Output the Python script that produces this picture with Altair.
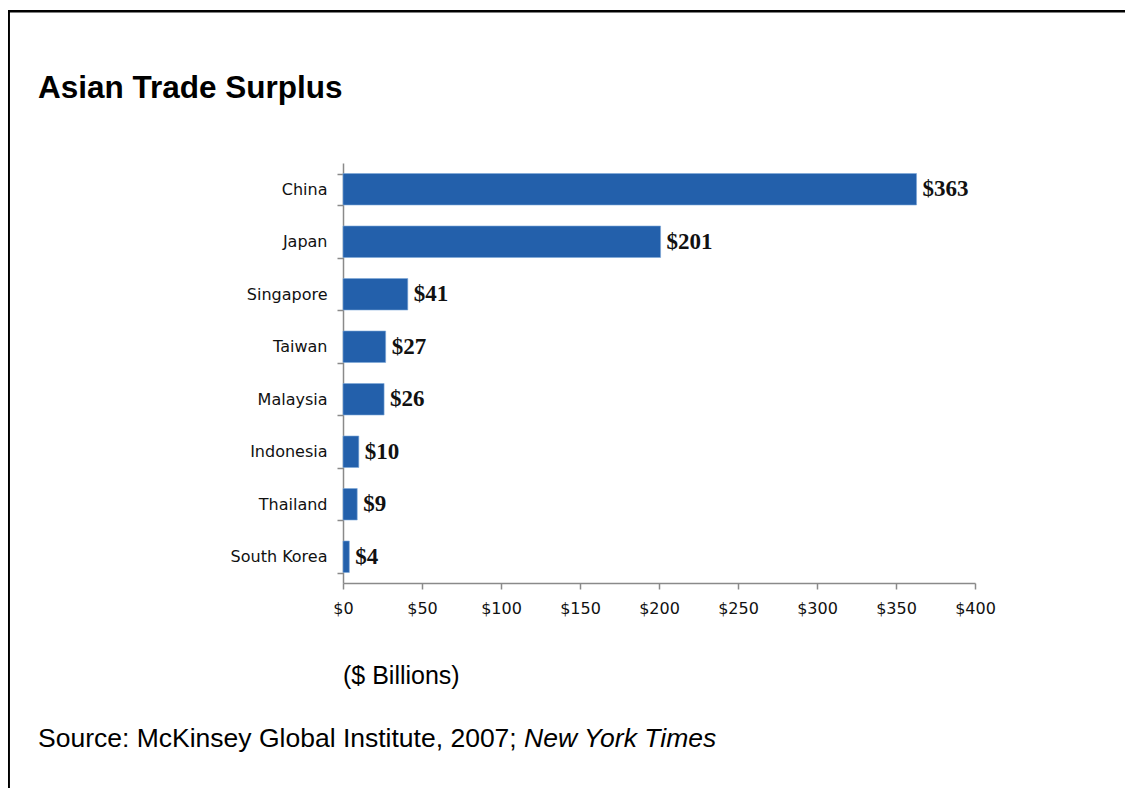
import altair as alt
import pandas as pd

title_text = "Asian Trade Surplus"
unit_text = "($ Billions)"
source_text = "Source: McKinsey Global Institute, 2007;"
source_italic = "New York Times"

countries = ["China", "Japan", "Singapore", "Taiwan", "Malaysia", "Indonesia", "Thailand", "South Korea"]
surplus = [363, 201, 41, 27, 26, 10, 9, 4]
value_labels = ["$363", "$201", "$41", "$27", "$26", "$10", "$9", "$4"]
x_ticks = [0, 50, 100, 150, 200, 250, 300, 350, 400]

df = pd.DataFrame({"country": countries, "surplus": surplus, "label": value_labels})

W, H = 632, 420
AXIS_GRAY = "#8a8a8a"

y_enc = alt.Y(
    "country:N",
    sort=countries,
    scale=alt.Scale(paddingInner=0.4, paddingOuter=0.2),
    axis=alt.Axis(
        title=None,
        tickBand="extent",
        tickSize=6,
        labelPadding=10,
        labelFont="DejaVu Sans",
        labelFontSize=16,
        labelColor="#111111",
        domainColor=AXIS_GRAY,
        tickColor=AXIS_GRAY,
        domainWidth=1.5,
        tickWidth=1.5,
    ),
)
x_enc = alt.X(
    "surplus:Q",
    scale=alt.Scale(domain=[0, 400], nice=False),
    axis=alt.Axis(
        title=None,
        values=x_ticks,
        labelExpr="'$' + format(datum.value, 'd')",
        grid=False,
        tickSize=6,
        labelPadding=11,
        labelFont="DejaVu Sans",
        labelFontSize=16,
        labelColor="#111111",
        labelFlush=False,
        domainColor=AXIS_GRAY,
        tickColor=AXIS_GRAY,
        domainWidth=1.5,
        tickWidth=1.5,
    ),
)

bars = alt.Chart(df).mark_bar(color="#2360ab", stroke="#7ea7d8", strokeWidth=0.6).encode(x=x_enc, y=y_enc)

values = alt.Chart(df).mark_text(
    align="left", baseline="middle", dx=6,
    font="Liberation Serif", fontWeight="bold", fontSize=23, color="#111111",
).encode(
    x="surplus:Q",
    y=alt.Y("country:N", sort=countries),
    text="label:N",
)

def note(text, x, y, size, weight="normal", style="normal"):
    return alt.Chart(pd.DataFrame({"t": [text]})).mark_text(
        align="left", baseline="alphabetic", font="Liberation Sans",
        fontSize=size, fontWeight=weight, fontStyle=style, color="#000000",
    ).encode(x=alt.value(x), y=alt.value(y), text="t:N")

title = note(title_text, -305, -65, 31.5, weight="bold")
unit = note(unit_text, 0, 521, 25)
src1 = note(source_text, -305, 584, 26.5)
src2 = note(source_italic, 181, 584, 26.5, style="italic")

frame_df = pd.DataFrame({"k": [0]})
top_line = alt.Chart(frame_df).mark_rule(color="#000000", strokeWidth=2.5).encode(
    x=alt.value(-335), x2=alt.value(800), y=alt.value(-151.7)
)
left_line = alt.Chart(frame_df).mark_rule(color="#000000", strokeWidth=2.5).encode(
    x=alt.value(-334.3), y=alt.value(-153), y2=alt.value(640)
)

chart = alt.layer(bars, values, title, unit, src1, src2, top_line, left_line).properties(
    width=W, height=H,
    background="white",
    autosize=alt.AutoSizeParams(type="none"),
    padding={"left": 335, "top": 155, "right": 150, "bottom": 205},
).configure_view(strokeWidth=0, stroke=None)

chart.save("out.html", embed_options={"renderer": "svg", "actions": False})
